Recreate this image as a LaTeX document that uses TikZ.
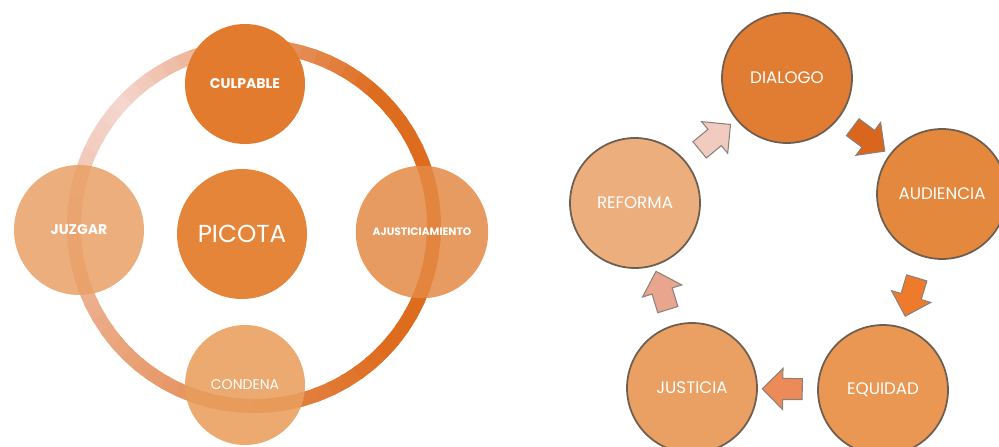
\documentclass[tikz,border=0pt]{standalone}
\usepackage{fontspec}
\newfontfamily\gothic{Poppins}
\usetikzlibrary{shapes.arrows}
\definecolor{anilloOsc}{HTML}{DE6C1E}
\definecolor{anilloCla}{HTML}{F4D6CF}
\definecolor{borde}{HTML}{6E5E50}
\definecolor{gris}{HTML}{8C817A}
\tikzset{
  bola/.style={circle, inner sep=0pt, text=white, font=\gothic\bfseries\fontsize{8}{9}\selectfont},
  rueda/.style={circle, minimum size=2.6cm, inner sep=0pt, draw=borde, line width=1pt, text=white, font=\gothic\fontsize{9.5}{11}\selectfont},
  flecha/.style={single arrow, draw=gris, line width=0.6pt, minimum height=0.8cm, inner sep=0.2cm, single arrow head extend=0.2cm, single arrow head indent=0pt, sloped, allow upside down, anchor=center}
}
\begin{document}
\begin{tikzpicture}[x=0.02cm, y=0.02cm]
 \useasboundingbox (0,-446) rectangle (999,0);
 % anillo
 \foreach \a in {0,5,...,355}{
  \pgfmathsetmacro\dif{mod(135-\a+360,360)}
  \pgfmathsetmacro\m{ifthenelse(\dif<=180, min(100,\dif/0.9), (360-\dif)/1.8)}
  \draw[line width=0.28cm, color=anilloOsc!\m!anilloCla] (254,-226) ++(\a:180) arc[start angle=\a, end angle=\a+6, radius=180];
 }
 \node[bola, minimum size=2.4cm, fill={rgb,255:red,226;green,123;blue,46}] (culpable) at (245,-84) {CULPABLE};
 \node[bola, minimum size=2.6cm, fill={rgb,255:red,234;green,160;blue,102}, fill opacity=.85, text opacity=1] (juzgar) at (79,-230) {JUZGAR};
 \node[bola, minimum size=2.6cm, fill={rgb,255:red,228;green,133;blue,58}, font=\gothic\fontsize{14}{17}\selectfont] (picota) at (242,-234) {PICOTA};
 \node[bola, minimum size=2.65cm, fill={rgb,255:red,228;green,138;blue,69}, fill opacity=.85, text opacity=1, font=\gothic\bfseries\fontsize{6.1}{7}\selectfont] (ajust) at (422,-232) {AJUSTICIAMIENTO};
 \node[bola, minimum size=2.4cm, fill={rgb,255:red,233;green,158;blue,92}, fill opacity=.88, text opacity=1, font=\gothic\fontsize{8}{9}\selectfont] (condena) at (245,-385) {CONDENA};
 % ciclo
 \node[rueda, fill={rgb,255:red,224;green,125;blue,51}] (dialogo) at (787,-78) {DIALOGO};
 \node[rueda, fill={rgb,255:red,228;green,136;blue,62}] (audiencia) at (942,-194) {AUDIENCIA};
 \node[rueda, fill={rgb,255:red,233;green,151;blue,82}] (equidad) at (883,-390) {EQUIDAD};
 \node[rueda, fill={rgb,255:red,234;green,160;blue,98}] (justicia) at (692,-388) {JUSTICIA};
 \node[rueda, fill={rgb,255:red,236;green,174;blue,124}] (reforma) at (635,-203) {REFORMA};
 \path (dialogo) -- node[flecha, fill={rgb,255:red,217;green,102;blue,28}]{} (audiencia);
 \path (audiencia) -- node[flecha, fill={rgb,255:red,238;green,123;blue,43}]{} (equidad);
 \path (equidad) -- node[flecha, fill={rgb,255:red,236;green,139;blue,88}]{} (justicia);
 \path (justicia) -- node[flecha, fill={rgb,255:red,233;green,165;blue,142}]{} (reforma);
 \path (reforma) -- node[flecha, fill={rgb,255:red,242;green,203;blue,192}]{} (dialogo);
\end{tikzpicture}
\end{document}
